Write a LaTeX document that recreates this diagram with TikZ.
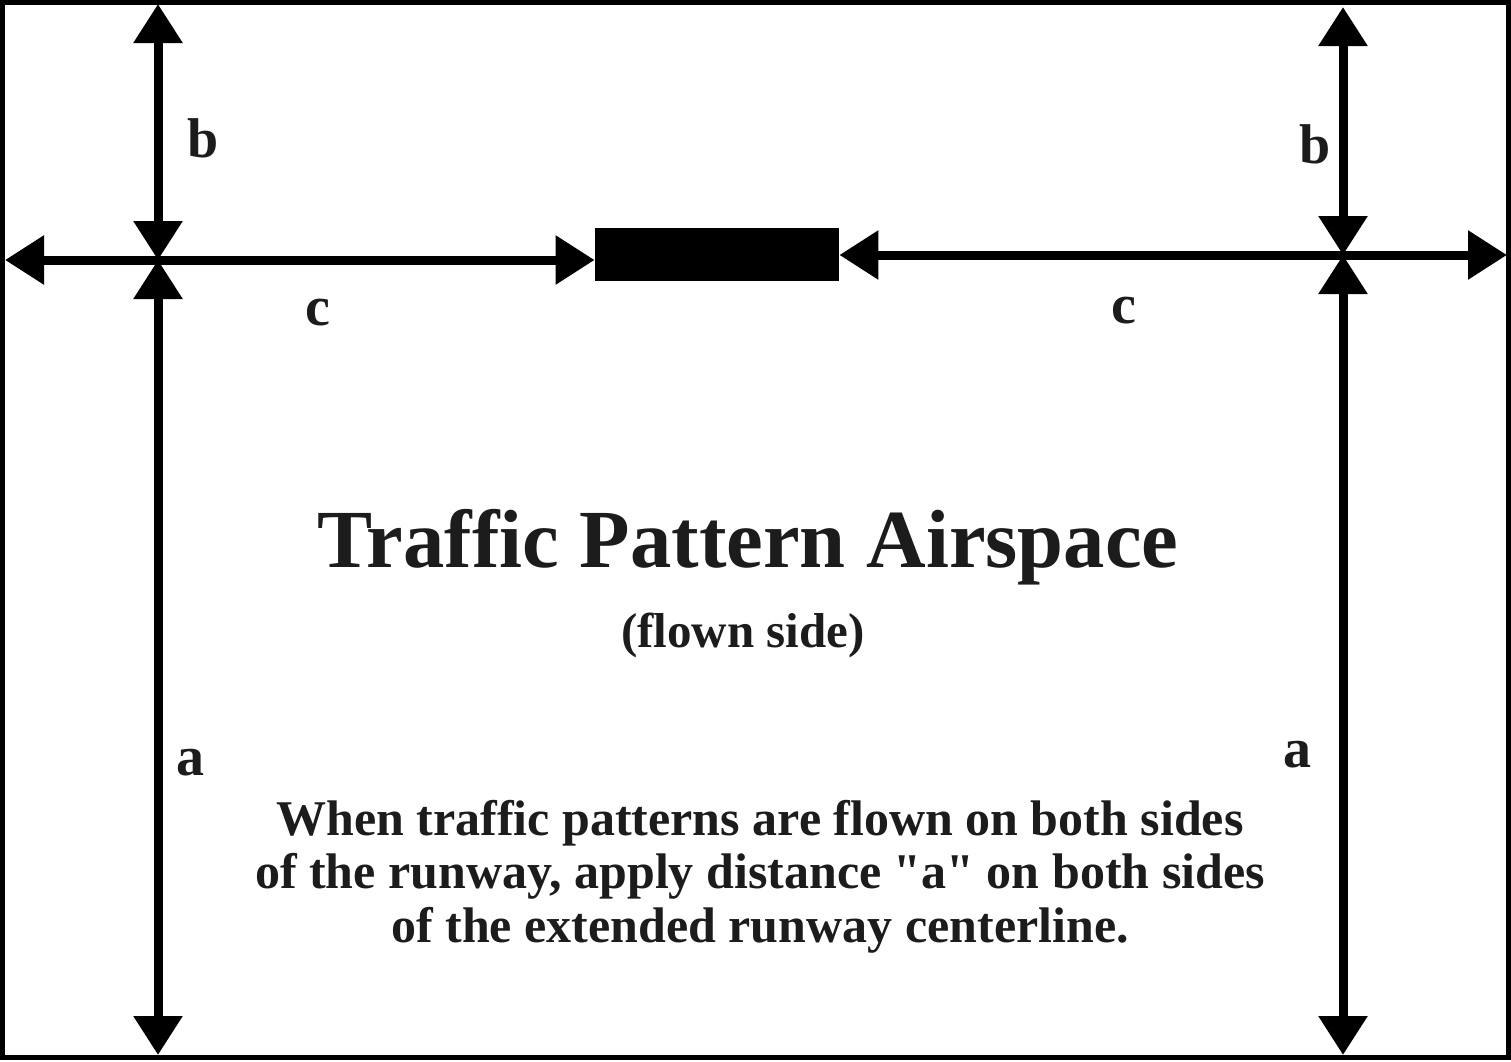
\documentclass[tikz,border=0pt]{standalone}
\usepackage{fontspec}
\setmainfont{Liberation Serif}[Ligatures=TeXOff]
\usetikzlibrary{arrows.meta}
\definecolor{inkgray}{HTML}{1C1C1C}

\begin{document}
\begin{tikzpicture}[x=0.5pt,y=-0.5pt,
    dim/.style={line width=4.5pt,{Triangle[length=19.5pt,width=23.5pt]}-{Triangle[length=19.5pt,width=23.5pt]}},
    lbl/.style={anchor=base,inner sep=0pt,text=inkgray,font=\bfseries\fontsize{28}{30}\selectfont},
    para/.style={anchor=base,inner sep=0pt,text=inkgray,font=\bfseries\fontsize{25}{27}\selectfont}]
  \useasboundingbox (0,0) rectangle (1511,1061);
  \draw[line width=2.5pt] (2.5,2) rectangle (1508,1057);
  % runway
  \node[fill=black,draw=none,minimum width=122pt,minimum height=26.5pt,inner sep=0pt](runway) at (717,254.5){};
  % crossing points and free ends
  \coordinate (lcross) at (158,260);
  \coordinate (rcross) at (1343,255);
  \coordinate (ltop) at (158,4);
  \coordinate (rtop) at (1343,7);
  \coordinate (lbot) at (158,1055);
  \coordinate (rbot) at (1343,1055);
  \coordinate (lend) at (5,260);
  \coordinate (rend) at (1507,255);
  \draw[dim] (ltop) -- (lcross);
  \draw[dim] (rtop) -- (rcross);
  \draw[dim] (lcross) -- (lbot);
  \draw[dim] (rcross) -- (rbot);
  \draw[dim] (lend) -- (runway.west |- lend);
  \draw[dim] (runway.east |- rend) -- (rend);
  % labels
  \node[lbl](bleft) at (203,157){b};
  \node[lbl](bright) at (1315,163){b};
  \node[lbl](cleft) at (318,325){c};
  \node[lbl](cright) at (1124,323){c};
  \node[lbl](aleft) at (190,775){a};
  \node[lbl](aright) at (1297,767){a};
  % texts
  \node[anchor=base,inner sep=0pt,text=inkgray,font=\bfseries\fontsize{41.3}{44}\selectfont](title) at (748,567){Traffic Pattern Airspace};
  \node[anchor=base,inner sep=0pt,text=inkgray,font=\bfseries\fontsize{24.5}{27}\selectfont](sub) at (743,647){(flown side)};
  \node[para](line1) at (760,835){When traffic patterns are flown on both sides};
  \node[para](line2) at (760,888.5){of the runway, apply distance "a" on both sides};
  \node[para](line3) at (760,942){of the extended runway centerline.};
\end{tikzpicture}
\end{document}
